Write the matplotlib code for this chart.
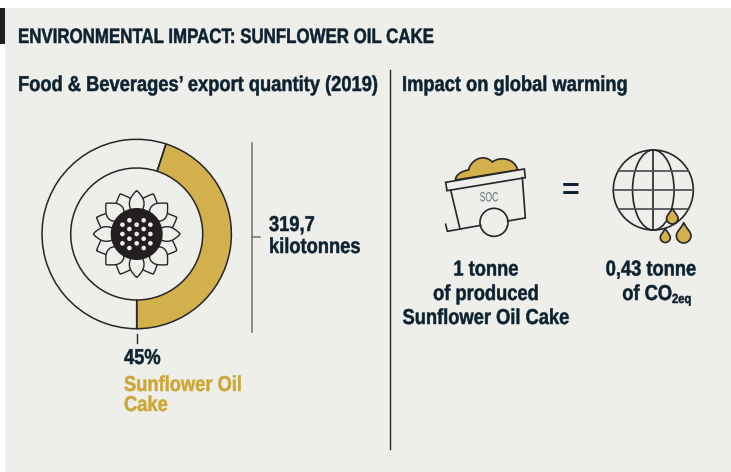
import numpy as np
import matplotlib
matplotlib.use("Agg")
import matplotlib.pyplot as plt
from matplotlib.patches import Circle, Ellipse, PathPatch, Polygon, Rectangle
from matplotlib.path import Path
from matplotlib.patheffects import AbstractPathEffect
from matplotlib.text import Text
from matplotlib.transforms import Affine2D, Bbox

# values shown in the graphic
shares = [45, 55]
quantity_label = ["319,7", "kilotonnes"]
share_label = "45%"
share_name = ["Sunflower Oil", "Cake"]
left_caption = ["1 tonne", "of produced", "Sunflower Oil Cake"]
right_caption = "0,43 tonne"

W, H = 731, 472
BG = "#eeeeea"
INK = "#0d2231"
LINE = "#26262a"
GOLD = "#d2b04c"
GOLD_TEXT = "#cda736"
FONT = ["Liberation Sans", "DejaVu Sans"]
NARROW = 0.85

fig = plt.figure(figsize=(W / 100, H / 100), dpi=100, facecolor="white")
ax = fig.add_axes([0, 0, 1, 1])
ax.set_xlim(0, W)
ax.set_ylim(H, 0)
ax.axis("off")


class Squeeze(AbstractPathEffect):
    # no condensed face is installed, so squeeze the glyphs about the anchor
    def __init__(self, x0, factor, stroke):
        super().__init__()
        self.x0 = x0
        self.factor = factor
        self.stroke = stroke

    def draw_path(self, renderer, gc, tpath, affine, rgbFace=None):
        t = affine + Affine2D().translate(-self.x0, 0).scale(self.factor, 1).translate(self.x0, 0)
        gc0 = renderer.new_gc()
        gc0.copy_properties(gc)
        gc0.set_linewidth(self.stroke)
        gc0.set_foreground(rgbFace)
        renderer.draw_path(gc0, tpath, t, rgbFace)
        gc0.restore()


class NarrowText(Text):
    def __init__(self, x, y, s, factor=NARROW, stroke=0.35, **kw):
        super().__init__(x, y, s, **kw)
        self.anchor = x
        self.factor = factor
        self.set_path_effects([Squeeze(x, factor, stroke)])

    def get_window_extent(self, renderer=None, dpi=None):
        bb = super().get_window_extent(renderer, dpi)
        x0, f = self.anchor, self.factor
        return Bbox([[x0 + (bb.x0 - x0) * f, bb.y0], [x0 + (bb.x1 - x0) * f, bb.y1]])


def label(x, y, s, size=15.5, color=INK, ha="left", weight="bold", factor=NARROW, stroke=0.35):
    ax.add_artist(NarrowText(x, y, s, factor=factor, stroke=stroke, fontsize=size, color=color,
                             ha=ha, va="baseline", family=FONT, fontweight=weight))


def drop(cx, top, bottom, half):
    # teardrop outline, pointed end up
    r = half
    cy = bottom - r
    k = 0.552 * r
    verts = [(cx, top),
             (cx + 0.25 * r, top + 0.4 * (cy - top)), (cx + r, cy - 0.6 * r), (cx + r, cy),
             (cx + r, cy + k), (cx + k, bottom), (cx, bottom),
             (cx - k, bottom), (cx - r, cy + k), (cx - r, cy),
             (cx - r, cy - 0.6 * r), (cx - 0.25 * r, top + 0.4 * (cy - top)), (cx, top)]
    codes = [Path.MOVETO] + [Path.CURVE4] * 12
    ax.add_patch(PathPatch(Path(verts, codes), fc=GOLD, ec=LINE, lw=1.2, zorder=6))


# panel and header tab
ax.add_patch(Rectangle((5, 8), W - 5, H - 8, fc=BG, ec="none"))
ax.add_patch(Rectangle((0, 8), 5, 36, fc="#231f20", ec="none"))

label(18, 43, "ENVIRONMENTAL IMPACT: SUNFLOWER OIL CAKE", size=15, factor=0.81)
label(18, 91, "Food & Beverages’ export quantity (2019)")
label(402, 91, "Impact on global warming")
ax.plot([389.5, 389.5], [70, 449], color=LINE, lw=1)

# donut
cx, cy, R = 136.7, 234, 94.7
pie_ax = fig.add_axes([(cx - R - 2) / W, 1 - (cy + R + 2) / H, (2 * R + 4) / W, (2 * R + 4) / H])
pie_ax.pie(shares, colors=[GOLD, "none"], startangle=-90, counterclock=True, radius=R,
           wedgeprops=dict(width=R - 66, edgecolor=LINE, linewidth=1.1))
pie_ax.set_xlim(-R - 2, R + 2)
pie_ax.set_ylim(-R - 2, R + 2)
pie_ax.patch.set_alpha(0)

# sunflower petals, back row first
tip, base = 43.5, 20
for row, z in ((0, 3), (1, 4)):
    for i in range(8):
        a = np.radians(22.5 * (2 * i + 1 - row))
        half_w = 9 if (row == 0 or i % 2 == 1) else 7.3
        local = [(0, tip), (3, tip - 3), (half_w, tip - 7), (half_w, tip - 13),
                 (half_w, tip - 18), (6, base + 4), (0, base),
                 (-6, base + 4), (-half_w, tip - 18), (-half_w, tip - 13),
                 (-half_w, tip - 7), (-3, tip - 3), (0, tip)]
        verts = [(cx + px * np.cos(a) + py * np.sin(a), cy + px * np.sin(a) - py * np.cos(a))
                 for px, py in local]
        codes = [Path.MOVETO] + [Path.CURVE4] * 12
        ax.add_patch(PathPatch(Path(verts, codes), fc=BG, ec=LINE, lw=1, zorder=z))
ax.add_patch(Circle((cx, cy), 26, fc="#231f20", ec="none", zorder=5))
seed_rows = [(-13.7, [-7.3, 7]), (-9.3, [-14.3, 0, 13.7]), (-5, [-7.3, 7]), (0, [-14.3, 0, 13.7]),
             (4.7, [-7.3, 7]), (9.3, [-14.3, 0, 13.7]), (14, [-7.3, 7])]
for dy, xs in seed_rows:
    for dx in xs:
        ax.add_patch(Circle((cx + dx, cy + dy), 2.3, fc=BG, ec="none", zorder=6))

# quantity bracket
ax.plot([252, 252], [143, 332], color="#6f6f6f", lw=1.1)
ax.plot([252, 260], [236.7, 236.7], color="#6f6f6f", lw=1.1)
label(269, 231, quantity_label[0])
label(269, 253, quantity_label[1])

# share label
ax.plot([136.7, 136.7], [334, 343], color=LINE, lw=1)
label(124, 364, share_label)
label(124, 391, share_name[0], color=GOLD_TEXT)
label(124, 411, share_name[1], color=GOLD_TEXT)


def cart(x, y):
    return 420 + x / 3, 140 + y / 3


# load on the cart
blob = [(106, 120), (108, 102), (128, 92), (146, 90), (150, 62), (190, 38), (217, 66),
        (240, 48), (285, 55), (293, 90), (293, 90), (106, 120), (106, 120)]
ax.add_patch(PathPatch(Path([cart(*p) for p in blob], [Path.MOVETO] + [Path.CURVE4] * 12),
                       fc=GOLD, ec=LINE, lw=1.2))
# cart body
ax.plot(*zip(*[cart(92, 150), cart(120, 267)]), color=LINE, lw=1.2)
ax.plot(*zip(*[cart(307, 113), cart(316, 234), cart(263, 243)]), color=LINE, lw=1.2)
ax.plot(*zip(*[cart(182, 256), cart(82, 274), cart(77, 253)]), color=LINE, lw=1.2)
ax.add_patch(Polygon([cart(77, 127), cart(313, 87), cart(316, 113), cart(81, 152)],
                     closed=True, fc=BG, ec=LINE, lw=1.2))
ax.add_patch(Circle(cart(222, 247), 14, fc=BG, ec=LINE, lw=1.2))
sx, sy = cart(207, 184)
label(sx, sy, "SOC", size=9.5, color="#5d6b76", ha="center", weight="normal", factor=0.65, stroke=0)

ax.text(571, 192.5, "=", fontsize=22, color=INK, ha="center", va="center", family=FONT, fontweight="bold")

# globe
gx, gy, gr = 653.3, 190, 40
ax.add_patch(Circle((gx, gy), gr, fc="none", ec=LINE, lw=1.2))
ax.add_patch(Ellipse((gx, gy), 41.5, 2 * gr, fc="none", ec=LINE, lw=1.2))
ax.plot([gx, gx], [gy - gr, gy + gr], color=LINE, lw=1.2)
for dy in (-19, 0, 18.5):
    half = np.sqrt(gr ** 2 - dy ** 2)
    ax.plot([gx - half, gx + half], [gy + dy, gy + dy], color="#55555a", lw=1.3)
drop(672.3, 208, 224, 5.7)
drop(665.3, 228, 242.5, 5)
drop(683.7, 222.5, 243, 7.3)

# captions
for text, y in zip(left_caption, (275.5, 300, 324)):
    label(486, y, text, ha="center")
label(651, 275.5, right_caption, ha="center")
label(672, 300, "of CO", ha="right")
label(672, 303, "2eq", size=9.5)

fig.savefig("out.png", dpi=100, facecolor=fig.get_facecolor())
